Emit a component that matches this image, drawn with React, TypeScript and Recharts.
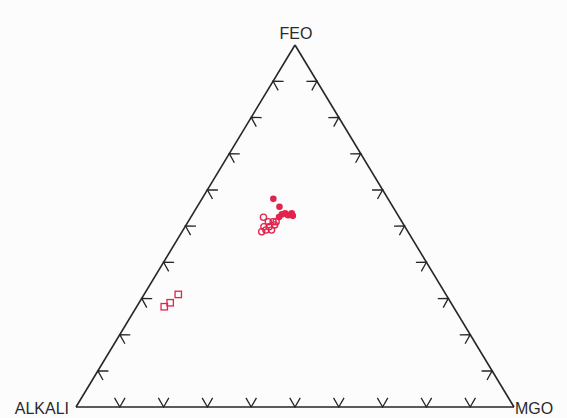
import { ScatterChart, Scatter, XAxis, YAxis, ReferenceLine } from "recharts";

// AFM ternary compositions in percent: [ALKALI, FEO, MGO]
const filledSamples: number[][] = [
  [26.2, 57.5, 16.3],
  [25.9, 55.3, 18.8],
  [25.5, 53.5, 21.0],
  [26.4, 53.2, 20.4],
  [24.0, 53.5, 22.5],
  [24.1, 52.8, 23.1],
  [25.1, 53.0, 21.9],
  [27.4, 52.5, 20.1],
];

const openSamples: number[][] = [
  [31.0, 52.4, 16.6],
  [30.5, 51.2, 18.3],
  [29.4, 51.2, 19.4],
  [28.7, 51.2, 20.1],
  [32.2, 49.8, 18.0],
  [31.0, 49.8, 19.2],
  [29.5, 50.3, 20.2],
  [32.2, 48.9, 18.9],
  [30.9, 48.9, 20.2],
  [33.4, 48.4, 18.2],
];

const squareSamples: number[][] = [
  [61.1, 31.1, 7.8],
  [64.1, 28.8, 7.1],
  [66.0, 27.7, 6.3],
];

const tickPercents = [10, 20, 30, 40, 50, 60, 70, 80, 90];
const vertexNames = ["ALKALI", "FEO", "MGO"];
const vertexComps: number[][] = [
  [100, 0, 0],
  [0, 100, 0],
  [0, 0, 100],
];

const RED = "#e2234c";
const INK = "#262626";

function toXY(c: number[]) {
  const [a, f, m] = c;
  const s = a + f + m;
  return { x: (m + f / 2) / s, y: f / s };
}

const filledData = filledSamples.map(toXY);
const openData = openSamples.map(toXY);
const squareData = squareSamples.map(toXY);
const vertices = vertexComps.map((c, i) => ({ ...toXY(c), name: vertexNames[i] }));

const tickData = [
  ...tickPercents.map((t) => ({ ...toXY([100 - t, t, 0]), edge: "left" })),
  ...tickPercents.map((t) => ({ ...toXY([0, t, 100 - t]), edge: "right" })),
  ...tickPercents.map((t) => ({ ...toXY([100 - t, 0, t]), edge: "bottom" })),
];

// inward normal angle (screen degrees) for each side
const normals: Record<string, number> = { left: 31, right: 149, bottom: -90 };
const ARM = 10.5;

function Chevron(p: any) {
  const n = (normals[p.payload.edge] * Math.PI) / 180;
  const a1 = n - Math.PI / 6;
  const a2 = n + Math.PI / 6;
  const d = `M${p.cx + ARM * Math.cos(a1)},${p.cy + ARM * Math.sin(a1)} L${p.cx},${p.cy} L${
    p.cx + ARM * Math.cos(a2)
  },${p.cy + ARM * Math.sin(a2)}`;
  return <path d={d} fill="none" stroke={INK} strokeWidth={1.3} />;
}

function VertexLabel(p: any) {
  const name = p.payload.name;
  const style = { fontFamily: "'Liberation Sans', Arial, sans-serif", fontSize: 16, fill: "#2a2a2a" };
  if (name === "ALKALI")
    return <text x={p.cx - 7} y={p.cy + 7} textAnchor="end" style={style}>{name}</text>;
  if (name === "MGO")
    return <text x={p.cx + 1} y={p.cy + 7} textAnchor="start" style={style}>{name}</text>;
  return <text x={p.cx + 1} y={p.cy - 6.5} textAnchor="middle" style={style}>{name}</text>;
}

export default function App() {
  const [A, F, M] = vertices;
  return (
    <div style={{ position: "absolute", left: 0, top: 0, width: 567, height: 418, background: "#fcfcfc" }}>
      <ScatterChart width={567} height={418} margin={{ top: 45, right: 53, bottom: 11, left: 76 }}>
        <XAxis type="number" dataKey="x" domain={[0, 1]} hide />
        <YAxis type="number" dataKey="y" domain={[0, 1]} hide />
        <ReferenceLine segment={[{ x: A.x, y: A.y }, { x: F.x, y: F.y }]} stroke={INK} strokeWidth={1.6} />
        <ReferenceLine segment={[{ x: F.x, y: F.y }, { x: M.x, y: M.y }]} stroke={INK} strokeWidth={1.6} />
        <ReferenceLine segment={[{ x: A.x, y: A.y }, { x: M.x, y: M.y }]} stroke={INK} strokeWidth={1.6} />
        <Scatter data={tickData} shape={Chevron} isAnimationActive={false} />
        <Scatter data={vertices} shape={VertexLabel} isAnimationActive={false} />
        <Scatter
          data={openData}
          isAnimationActive={false}
          shape={(p: any) => <circle cx={p.cx} cy={p.cy} r={3.1} fill="none" stroke={RED} strokeWidth={1.3} />}
        />
        <Scatter
          data={filledData}
          isAnimationActive={false}
          shape={(p: any) => <circle cx={p.cx} cy={p.cy} r={3.3} fill={RED} />}
        />
        <Scatter
          data={squareData}
          isAnimationActive={false}
          shape={(p: any) => (
            <rect x={p.cx - 3.2} y={p.cy - 3.2} width={6.4} height={6.4} fill="none" stroke={RED} strokeWidth={1.3} />
          )}
        />
      </ScatterChart>
    </div>
  );
}
